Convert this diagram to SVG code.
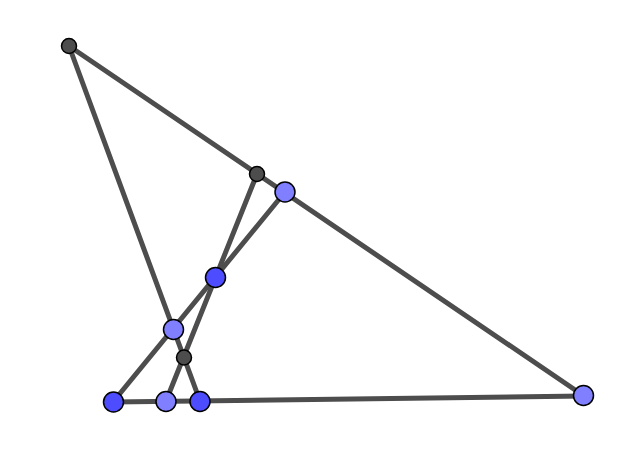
<svg xmlns="http://www.w3.org/2000/svg" width="626" height="462" viewBox="0 0 626 462">
<style>
.ln{stroke:#4d4d4d;stroke-width:5;fill:none;stroke-linecap:round}
.pt{stroke:#000;stroke-width:1.5}
.dk{fill:#4d4d4d}
.lb{fill:#7f7fff}
.bl{fill:#4d4dff}
</style>
<rect width="626" height="462" fill="#fff"/>
<g id="connectors">
<line class="ln" x1="69" y1="46" x2="584" y2="396"/>
<line class="ln" x1="69" y1="46" x2="200" y2="401"/>
<line class="ln" x1="257" y1="174" x2="166" y2="401"/>
<line class="ln" x1="285" y1="192" x2="113" y2="402"/>
<line class="ln" x1="113" y1="402" x2="584" y2="396"/>
</g>
<g id="A"><circle class="pt dk" cx="69" cy="46" r="7.5"/></g>
<g id="B"><circle class="pt dk" cx="257" cy="174" r="7.5"/></g>
<g id="C"><circle class="pt lb" cx="285" cy="192" r="10"/></g>
<g id="D"><circle class="pt bl" cx="215.5" cy="277.5" r="10"/></g>
<g id="E"><circle class="pt lb" cx="173.5" cy="329.5" r="10"/></g>
<g id="F"><circle class="pt dk" cx="184" cy="357.5" r="7.5"/></g>
<g id="G"><circle class="pt bl" cx="113.5" cy="402" r="10"/></g>
<g id="H"><circle class="pt lb" cx="166" cy="401.5" r="10"/></g>
<g id="I"><circle class="pt bl" cx="200" cy="401.5" r="10"/></g>
<g id="J"><circle class="pt lb" cx="583.5" cy="395.5" r="10"/></g>
</svg>
